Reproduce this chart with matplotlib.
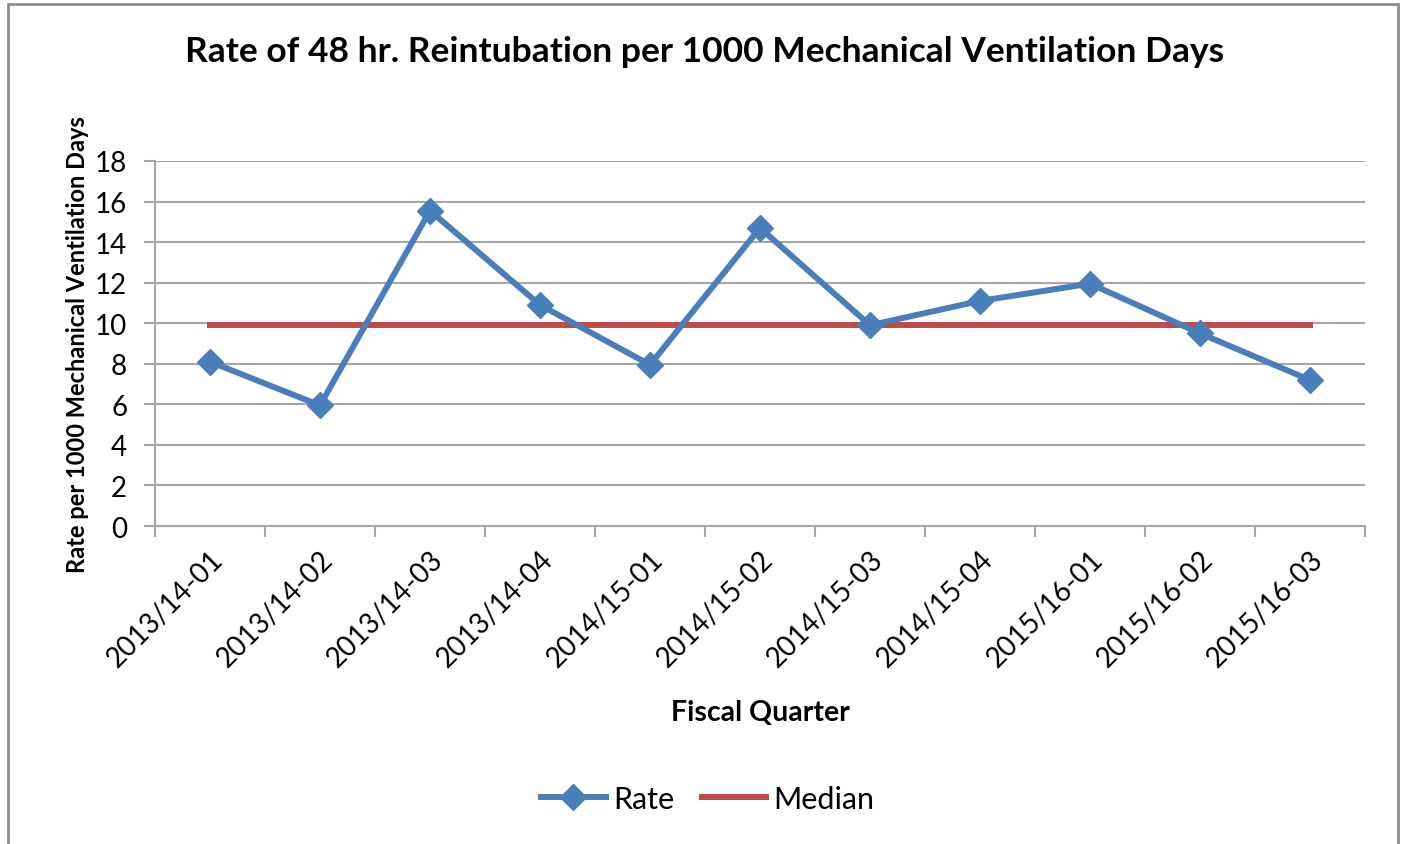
import matplotlib
matplotlib.use("Agg")
import matplotlib.pyplot as plt
import matplotlib.transforms as mtransforms
from matplotlib.patches import Rectangle

quarters = ["2013/14-01", "2013/14-02", "2013/14-03", "2013/14-04", "2014/15-01",
            "2014/15-02", "2014/15-03", "2014/15-04", "2015/16-01", "2015/16-02",
            "2015/16-03"]
rate = [8.1, 5.95, 15.55, 10.9, 7.95, 14.7, 9.9, 11.1, 11.95, 9.5, 7.2]
median = [9.9] * len(quarters)
y_ticks = list(range(0, 19, 2))

plt.rcParams['font.family'] = ['Lato', 'DejaVu Sans']

blue = '#4A7EBB'
red = '#BE4B48'
grid_grey = '#A6A6A6'

fig = plt.figure(figsize=(14.01, 8.45), dpi=100)
ax = fig.add_axes([155 / 1401, 1 - 527 / 845, 1210 / 1401, 365 / 845])

# Rahmen runt hela diagrammet
fig.patches.append(Rectangle((8 / 1401, -0.01), 1390 / 1401, 1 - 5 / 845 + 0.01,
                             transform=fig.transFigure, fill=False,
                             edgecolor='#8C8C8C', linewidth=2.0))

x = list(range(len(quarters)))
ax.plot(x, rate, color=blue, linewidth=4.3, marker='D', markersize=13.5,
        label='Rate', zorder=3)
ax.plot(x, median, color=red, linewidth=4.3, label='Median', zorder=2)

ax.set_xlim(-0.5, len(quarters) - 0.5)
ax.set_ylim(0, 18)
ax.set_yticks(y_ticks)
ax.yaxis.grid(True, color=grid_grey, linewidth=1.5)
ax.set_axisbelow(True)

# Excel-liknande: tick-streck mellan kategorierna
ax.set_xticks([i - 0.5 for i in range(len(quarters) + 1)])
ax.set_xticklabels([])
ax.set_xticks(x, minor=True)
ax.set_xticklabels(quarters, minor=True, rotation=45, ha='right',
                   rotation_mode='anchor', fontsize=20)
shift = mtransforms.ScaledTranslation(-5 / 100, 0, fig.dpi_scale_trans)
for lbl in ax.get_xticklabels(minor=True):
    lbl.set_transform(lbl.get_transform() + shift)
ax.tick_params(axis='x', which='minor', length=0, pad=14)
ax.tick_params(axis='x', which='major', length=8, width=1.5, color=grid_grey)
ax.tick_params(axis='y', length=8, width=1.5, color=grid_grey, labelsize=20, pad=12)

for side in ['top', 'right']:
    ax.spines[side].set_visible(False)
for side in ['left', 'bottom']:
    ax.spines[side].set_color(grid_grey)
    ax.spines[side].set_linewidth(1.5)

ax.set_xlabel('Fiscal Quarter', fontsize=20.5, fontweight='bold', labelpad=20)
ax.set_ylabel('Rate per 1000 Mechanical Ventilation Days', fontsize=17,
              fontweight='bold', labelpad=4)

fig.suptitle('Rate of 48 hr. Reintubation per 1000 Mechanical Ventilation Days',
             x=(187 + 1223) / 2 / 1401, y=1 - 52 / 845, va='center',
             fontsize=25.5, fontweight='bold')

fig.legend(loc='center', bbox_to_anchor=(708 / 1401, 1 - 800 / 845), ncol=2,
           frameon=False, fontsize=22, handlelength=2.1, columnspacing=0.9,
           handletextpad=0.25)

fig.savefig('out.png', dpi=100)
